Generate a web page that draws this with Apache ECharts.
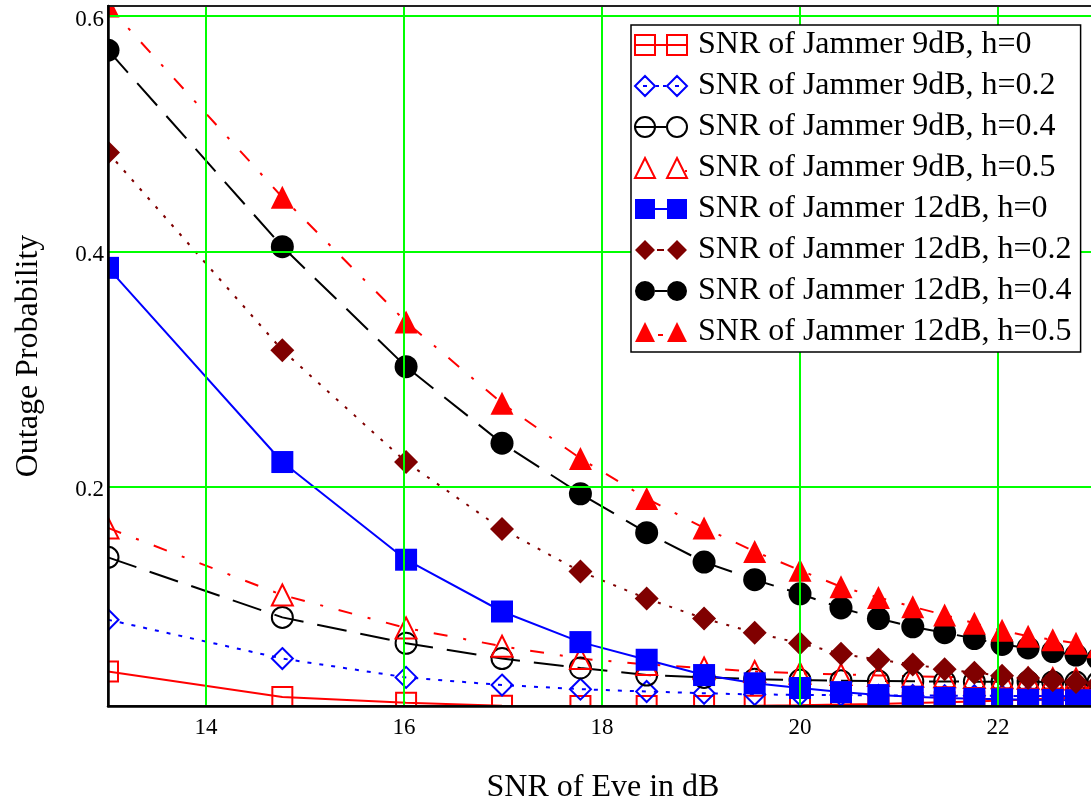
<!DOCTYPE html>
<html>
<head>
<meta charset="utf-8">
<script src="https://cdn.jsdelivr.net/npm/echarts@6/dist/echarts.min.js"></script>
<style>
  html, body { margin: 0; padding: 0; background: #ffffff; overflow: hidden; }
  #chart { width: 1100px; height: 809px; }
</style>
</head>
<body>
<div id="chart"></div>
<script>
// Eve SNR in dB (x axis)
const snrEve = [13.010, 14.771, 16.021, 16.990, 17.782, 18.451, 19.031, 19.542, 20.000, 20.414,
                20.792, 21.139, 21.461, 21.761, 22.041, 22.304, 22.553, 22.788, 23.010];

// Outage probability, jammer SNR 9 dB
const jam9h0   = [0.0430, 0.0213, 0.0165, 0.0140, 0.0137, 0.0137, 0.0138, 0.0140, 0.0144, 0.0149,
                  0.0155, 0.0162, 0.0169, 0.0176, 0.0184, 0.0192, 0.0200, 0.0208, 0.0216];
const jam9h02  = [0.087, 0.054, 0.038, 0.0315, 0.028, 0.026, 0.0245, 0.0235, 0.0232, 0.0230,
                  0.0228, 0.0226, 0.0225, 0.0224, 0.0223, 0.0222, 0.0221, 0.0220, 0.0220];
const jam9h04  = [0.140, 0.089, 0.067, 0.054, 0.046, 0.040, 0.038, 0.0365, 0.0357, 0.0352,
                  0.0349, 0.0347, 0.0345, 0.0344, 0.0343, 0.0342, 0.0341, 0.0340, 0.0340];
const jam9h05  = [0.165, 0.108, 0.080, 0.0645, 0.054, 0.049, 0.046, 0.0430, 0.0415, 0.0405,
                  0.0397, 0.0390, 0.0385, 0.0380, 0.0376, 0.0372, 0.0369, 0.0366, 0.0364];

// Outage probability, jammer SNR 12 dB
const jam12h0  = [0.386, 0.221, 0.138, 0.094, 0.068, 0.053, 0.040, 0.033, 0.029, 0.0255,
                  0.023, 0.0215, 0.0205, 0.0198, 0.0194, 0.0190, 0.0188, 0.0186, 0.0185];
const jam12h02 = [0.484, 0.316, 0.221, 0.164, 0.128, 0.105, 0.088, 0.076, 0.067, 0.058,
                  0.053, 0.049, 0.045, 0.042, 0.0395, 0.0375, 0.0355, 0.034, 0.0325];
const jam12h04 = [0.571, 0.404, 0.302, 0.237, 0.194, 0.161, 0.136, 0.121, 0.109, 0.097,
                  0.088, 0.081, 0.076, 0.071, 0.066, 0.063, 0.060, 0.057, 0.054];
const jam12h05 = [0.6085, 0.446, 0.340, 0.271, 0.224, 0.190, 0.165, 0.145, 0.129, 0.115,
                  0.106, 0.098, 0.091, 0.084, 0.078, 0.073, 0.070, 0.067, 0.064];

const seriesNames = [
  'SNR of Jammer 9dB, h=0', 'SNR of Jammer 9dB, h=0.2', 'SNR of Jammer 9dB, h=0.4', 'SNR of Jammer 9dB, h=0.5',
  'SNR of Jammer 12dB, h=0', 'SNR of Jammer 12dB, h=0.2', 'SNR of Jammer 12dB, h=0.4', 'SNR of Jammer 12dB, h=0.5'
];
const seriesValues = [jam9h0, jam9h02, jam9h04, jam9h05, jam12h0, jam12h02, jam12h04, jam12h05];

// axis ticks and limits (limits are the data extremes)
const xTicks = [14, 16, 18, 20, 22];
const yTicks = [0.2, 0.4, 0.6];
const xMin = 13.010, xMax = 23.010;
const yMin = 0.0137, yMax = 0.6085;

// visual style of each curve
const RED = '#ff0000', BLUE = '#0000ff', BLACK = '#000000', MAROON = '#800000';
const dashDot = [14, 16, 3, 16];

// legend glyphs: a pair of markers joined by a short stroke (52 x 20 box)
const CIRCLE_L = 'M0,10A10,10,0,1,0,20,10A10,10,0,1,0,0,10Z';
const CIRCLE_R = 'M32,10A10,10,0,1,0,52,10A10,10,0,1,0,32,10Z';
const icons = {
  rectHollow:  'path://M0,0H20V20H0Z M32,0H52V20H32Z M0,10H52',
  diamondHollow: 'path://M10,0L20,10L10,20L0,10Z M42,0L52,10L42,20L32,10Z M8,10H12 M21,10H24 M28,10H31 M40,10H44',
  circleHollow: 'path://' + CIRCLE_L + ' ' + CIRCLE_R + ' M0,10H31',
  triangleHollow: 'path://M10,0L20,20H0Z M42,0L52,20H32Z M50,13H52',
  rectFilled:  'path://M0,0H20V20H0Z M32,0H52V20H32Z M20,9H32V11H20Z',
  diamondFilled: 'path://M10,0L20,10L10,20L0,10Z M42,0L52,10L42,20L32,10Z M22,9H29V11H22Z',
  circleFilled: 'path://' + CIRCLE_L + ' ' + CIRCLE_R + ' M20,9H32V11H20Z',
  triangleFilled: 'path://M10,0L20,20H0Z M42,0L52,20H32Z M23,12H28V14H23Z'
};

const styles = [
  { color: RED,    dash: 'solid',  symbol: 'rect',     size: 20, hollow: true,  icon: icons.rectHollow },
  { color: BLUE,   dash: [4, 8],   symbol: 'diamond',  size: 21, hollow: true,  icon: icons.diamondHollow },
  { color: BLACK,  dash: [30, 14], symbol: 'circle',   size: 21, hollow: true,  icon: icons.circleHollow },
  { color: RED,    dash: dashDot,  symbol: 'triangle', size: 21, hollow: true,  icon: icons.triangleHollow },
  { color: BLUE,   dash: 'solid',  symbol: 'rect',     size: 22, hollow: false, icon: icons.rectFilled },
  { color: MAROON, dash: [3, 9],   symbol: 'diamond',  size: 24, hollow: false, icon: icons.diamondFilled },
  { color: BLACK,  dash: [30, 14], symbol: 'circle',   size: 23, hollow: false, icon: icons.circleFilled },
  { color: RED,    dash: dashDot,  symbol: 'triangle', size: 23, hollow: false, icon: icons.triangleFilled }
];

const FONT = '"Liberation Serif", "Times New Roman", serif';

function markerStyle(s) {
  return s.hollow
    ? { color: 'rgba(255,255,255,0)', borderColor: s.color, borderWidth: 2 }
    : { color: s.color, borderColor: s.color, borderWidth: 0 };
}

const curveSeries = seriesNames.map((name, i) => {
  const s = styles[i];
  return {
    name: name,
    type: 'line',
    z: 3,
    clip: false,
    data: snrEve.map((x, j) => [x, seriesValues[i][j]]),
    symbol: s.symbol,
    symbolSize: s.size,
    showAllSymbol: true,
    lineStyle: { color: s.color, width: 2, type: s.dash },
    itemStyle: markerStyle(s),
    emphasis: { disabled: true },
    animation: false
  };
});

// bright green grid drawn under the curves
const gridSeries = {
  name: 'grid',
  type: 'line',
  data: [],
  z: 1,
  silent: true,
  markLine: {
    silent: true,
    animation: false,
    symbol: ['none', 'none'],
    label: { show: false },
    emphasis: { disabled: true },
    lineStyle: { color: '#00ff00', width: 2, type: 'solid' },
    data: xTicks.map(v => ({ xAxis: v })).concat(yTicks.map(v => ({ yAxis: v })))
  }
};

const chart = echarts.init(document.getElementById('chart'), null, { renderer: 'canvas' });

chart.setOption({
  backgroundColor: '#ffffff',
  animation: false,
  grid: {
    left: 108, top: 6, width: 990, height: 700,
    show: true, borderColor: '#222222', borderWidth: 2, z: 60
  },
  legend: {
    data: seriesNames.map((name, i) => ({
      name: name,
      icon: styles[i].icon,
      itemStyle: markerStyle(styles[i])
    })),
    orient: 'vertical',
    left: 631, top: 25,
    padding: [4, 9, 4, 3],
    itemWidth: 52, itemHeight: 20, itemGap: 9,
    backgroundColor: '#ffffff',
    borderColor: '#000000', borderWidth: 1.5, borderRadius: 0,
    selectedMode: false,
    z: 80,
    textStyle: { fontFamily: FONT, fontSize: 32, lineHeight: 32, color: '#000000', padding: [0, 0, 0, 6] }
  },
  xAxis: {
    type: 'value',
    min: xMin, max: xMax,
    z: 60,
    name: 'SNR of Eve in dB',
    nameLocation: 'middle',
    nameGap: 66,
    nameTextStyle: { fontFamily: FONT, fontSize: 32, color: '#000000' },
    axisLine: { show: true, onZero: false, lineStyle: { color: '#000000', width: 2.5 } },
    axisTick: { show: false },
    splitLine: { show: false },
    axisLabel: {
      customValues: xTicks,
      margin: 10,
      fontFamily: FONT, fontSize: 23, color: '#000000',
      formatter: v => String(v)
    }
  },
  yAxis: {
    type: 'value',
    min: yMin, max: yMax,
    z: 60,
    name: 'Outage Probability',
    nameLocation: 'middle',
    nameGap: 63,
    nameTextStyle: { fontFamily: FONT, fontSize: 32, color: '#000000' },
    axisLine: { show: true, onZero: false, lineStyle: { color: '#000000', width: 2.5 } },
    axisTick: { show: false },
    splitLine: { show: false },
    axisLabel: {
      customValues: yTicks,
      margin: 4,
      fontFamily: FONT, fontSize: 23, color: '#000000',
      formatter: v => '{t|' + v.toFixed(1) + '}',
      rich: {
        t: { fontFamily: FONT, fontSize: 23, color: '#000000', padding: [7, 0, 0, 0] }
      }
    }
  },
  series: [gridSeries].concat(curveSeries)
});

// white frame around the plot area so markers are cut at the plot edges
const W = chart.getWidth(), H = chart.getHeight();
const tl = chart.convertToPixel({ gridIndex: 0 }, [xMin, yMax]);
const br = chart.convertToPixel({ gridIndex: 0 }, [xMax, yMin]);
const maskStyle = { fill: '#ffffff' };
chart.setOption({
  graphic: [
    { type: 'rect', silent: true, z: 50, shape: { x: 0, y: 0, width: W, height: tl[1] }, style: maskStyle },
    { type: 'rect', silent: true, z: 50, shape: { x: 0, y: br[1], width: W, height: H - br[1] }, style: maskStyle },
    { type: 'rect', silent: true, z: 50, shape: { x: 0, y: 0, width: tl[0], height: H }, style: maskStyle },
    { type: 'rect', silent: true, z: 50, shape: { x: br[0], y: 0, width: Math.max(0, W - br[0]), height: H }, style: maskStyle }
  ]
});
</script>
</body>
</html>
